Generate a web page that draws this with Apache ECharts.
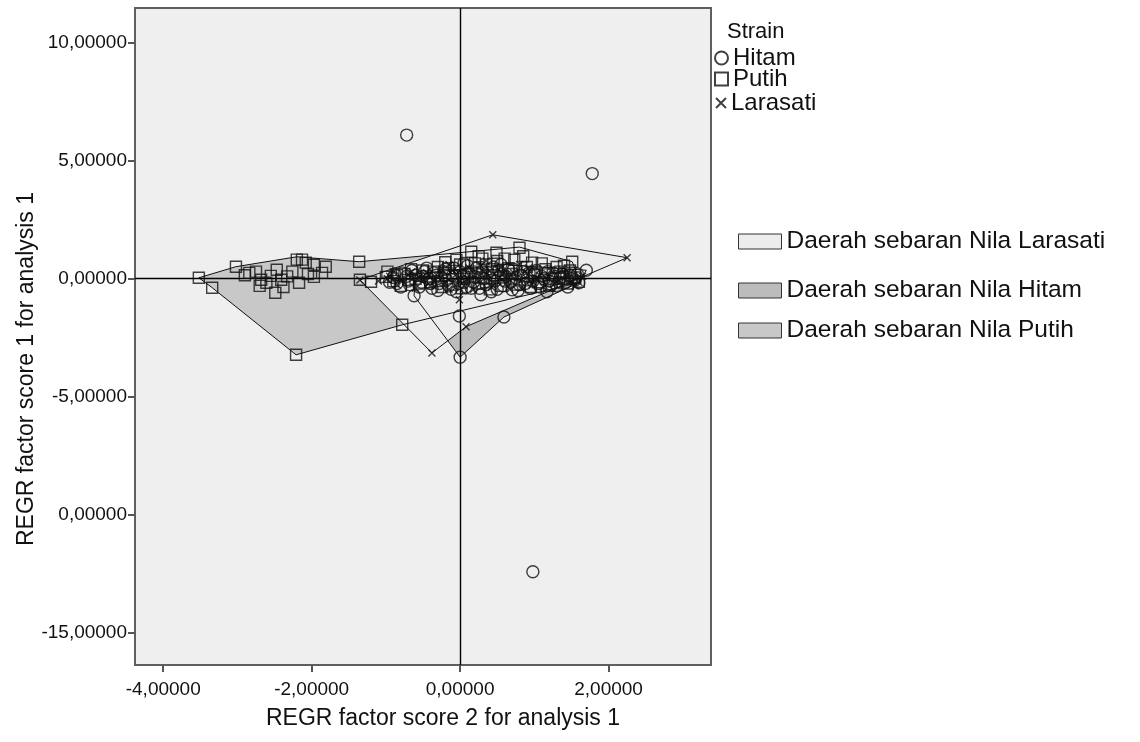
<!DOCTYPE html>
<html><head><meta charset="utf-8">
<script src="https://cdn.jsdelivr.net/npm/echarts@6/dist/echarts.min.js"></script>
<style>html,body{margin:0;padding:0;background:#fff}#c{width:1140px;height:742px}</style>
</head><body><div id="c"></div>
<script>
const xTickValues = [-4, -2, 0, 2];
const xTickLabels = ['-4,00000', '-2,00000', '0,00000', '2,00000'];
const yTickValues = [-15, -10, -5, 0, 5, 10];
const yTickLabels = ['-15,00000', '0,00000', '-5,00000', '0,00000', '5,00000', '10,00000'];
const strainNames = ['Hitam', 'Putih', 'Larasati'];
const areaNames = ['Daerah sebaran Nila Larasati', 'Daerah sebaran Nila Hitam', 'Daerah sebaran Nila Putih'];

const hitam = [
  [-0.72, 6.08], [1.78, 4.45], [0.98, -12.40],
  [0.00, -3.32], [-0.01, -1.58], [0.59, -1.62], [-0.62, -0.72], [1.60, -0.17], [1.70, 0.36],
  [-0.90, 0.05], [-0.85, -0.20], [-0.78, 0.25], [-0.70, -0.10], [-0.65, 0.35], [-0.55, -0.35],
  [-0.50, 0.10], [-0.45, 0.45], [-0.40, -0.20], [-0.35, 0.25], [-0.30, -0.50], [-0.25, 0.05],
  [-0.20, 0.40], [-0.15, -0.30], [-0.10, 0.15], [-0.05, -0.55], [0.00, 0.30], [0.05, -0.15],
  [0.10, 0.55], [0.15, -0.40], [0.20, 0.10], [0.28, -0.68], [0.30, 0.35], [0.35, -0.25],
  [0.40, 0.05], [0.45, 0.50], [0.50, -0.45], [0.55, 0.20], [0.60, -0.10], [0.65, 0.40],
  [0.70, -0.47], [0.75, 0.05], [0.80, -0.25], [0.85, 0.30], [0.90, -0.05], [0.95, -0.40],
  [1.00, 0.20], [1.05, -0.20], [1.10, 0.10], [1.17, -0.55], [1.20, -0.10], [1.25, 0.25],
  [1.30, -0.30], [1.35, 0.05], [1.42, -0.15], [1.48, 0.15], [1.55, -0.05],
  [-0.95, -0.15], [-0.88, 0.20], [-0.80, -0.35], [-0.72, 0.10], [-0.68, -0.25], [-0.60, 0.15],
  [-0.52, -0.15], [-0.48, 0.30], [-0.42, 0.00], [-0.38, -0.40], [-0.32, 0.15], [-0.28, -0.20],
  [-0.22, 0.30], [-0.18, -0.05], [-0.12, -0.45], [-0.08, 0.45], [-0.02, -0.20], [0.03, 0.10],
  [0.08, -0.35], [0.12, 0.25], [0.18, -0.15], [0.22, 0.45], [0.26, -0.40], [0.32, 0.00],
  [0.38, 0.25], [0.42, -0.55], [0.47, -0.10], [0.52, 0.35], [0.58, -0.30], [0.62, 0.10],
  [0.68, -0.15], [0.72, 0.40], [0.78, -0.50], [0.82, 0.15], [0.88, -0.20], [0.93, 0.25],
  [0.98, -0.10], [1.03, 0.35], [1.08, -0.35], [1.13, 0.00], [1.18, 0.30], [1.23, -0.25],
  [1.28, 0.10], [1.33, -0.15], [1.38, 0.20], [1.45, -0.35], [1.50, 0.00], [1.58, 0.20],
  [0.05, 0.65], [0.55, 0.60]
];
const putih = [
  [-3.52, 0.04], [-3.34, -0.38], [-3.02, 0.51], [-2.84, 0.25], [-2.75, 0.30], [-2.68, -0.04],
  [-2.61, -0.17], [-2.49, -0.59], [-2.47, 0.38], [-2.41, -0.04], [-2.26, 0.30], [-2.17, -0.17],
  [-2.20, 0.81], [-2.13, 0.81], [-2.08, 0.68], [-1.97, 0.59], [-1.81, 0.51], [-1.97, 0.08],
  [-1.86, 0.25], [-2.55, 0.12], [-2.33, 0.10], [-2.05, 0.20], [-2.90, 0.15], [-2.70, -0.30],
  [-2.38, -0.35], [-1.36, 0.72], [-1.35, -0.04], [-1.20, -0.13], [-1.00, 0.08],
  [-2.21, -3.22], [-0.78, -1.95],
  [-0.90, -0.10], [-0.75, 0.20], [-0.60, 0.00], [-0.50, 0.35], [-0.40, -0.15], [-0.30, 0.50],
  [-0.20, 0.15], [-0.10, -0.25], [0.00, 0.60], [0.05, 0.00], [0.15, 1.14], [0.15, 0.30],
  [0.25, -0.20], [0.35, 0.60], [0.45, 0.15], [0.49, 1.10], [0.55, -0.30], [0.65, 0.45],
  [0.73, 0.80], [0.80, 1.31], [0.85, 0.10], [0.97, 0.68], [1.05, -0.15], [1.15, 0.40],
  [1.25, 0.00], [1.35, 0.30], [1.45, -0.20], [1.51, 0.72], [1.60, -0.13], [1.40, 0.55],
  [0.60, 0.85], [0.30, 0.85], [-0.05, 0.80],
  [-0.98, 0.30], [-0.85, 0.15], [-0.80, -0.30], [-0.66, 0.40], [-0.55, -0.20], [-0.45, 0.10],
  [-0.36, 0.30], [-0.25, -0.35], [-0.16, 0.45], [-0.06, 0.10], [0.02, -0.40], [0.10, 0.20],
  [0.20, 0.65], [0.28, 0.05], [0.40, -0.45], [0.43, 0.40], [0.50, 0.75], [0.58, 0.05],
  [0.70, 0.20], [0.76, -0.25], [0.90, 0.50], [0.95, -0.35], [1.00, 0.15], [1.10, 0.65],
  [1.20, -0.30], [1.30, 0.50], [1.38, 0.00], [1.48, 0.35], [1.55, 0.05], [0.25, 0.95],
  [-0.20, 0.70], [0.85, 0.95], [-0.70, -0.05], [-0.30, -0.10], [0.35, -0.15]
];
const larasati = [
  [0.44, 1.86], [2.25, 0.89], [-0.38, -3.14], [0.08, -2.03], [-0.01, -0.89], [-1.35, -0.05],
  [-1.10, -0.10], [-0.95, 0.10],
  [-0.85, -0.25], [-0.70, 0.15], [-0.60, -0.40], [-0.45, 0.25], [-0.35, -0.10], [-0.25, 0.40],
  [-0.15, -0.45], [-0.05, 0.20], [0.05, -0.30], [0.12, 0.45], [0.22, -0.05], [0.32, 0.30],
  [0.42, -0.35], [0.52, 0.40], [0.62, -0.20], [0.72, 0.25], [0.82, -0.40], [0.92, 0.45],
  [1.02, 0.00], [1.12, -0.35], [1.22, 0.35], [1.32, -0.05], [1.45, 0.25], [1.55, -0.30],
  [1.65, 0.10], [0.10, 0.00], [0.60, 0.05], [-0.50, -0.05],
  [-0.98, 0.00], [-0.90, 0.30], [-0.78, -0.10], [-0.65, 0.30], [-0.55, 0.05], [-0.40, -0.30],
  [-0.30, 0.10], [-0.20, -0.20], [-0.10, 0.35], [0.00, -0.10], [0.15, 0.20], [0.18, -0.45],
  [0.28, 0.55], [0.38, 0.10], [0.47, -0.20], [0.57, 0.20], [0.67, -0.45], [0.77, 0.05],
  [0.87, 0.30], [0.97, -0.25], [1.07, 0.15], [1.17, 0.00], [1.27, -0.20], [1.37, 0.40],
  [1.50, -0.10], [1.60, -0.15], [0.35, 0.75], [-0.15, 0.60], [0.80, 0.60]
];
const hullPutih = [[-3.52, 0.04], [-3.34, -0.38], [-2.21, -3.22], [-0.78, -1.95], [1.62, -0.15],
  [1.51, 0.72], [0.80, 1.34], [0.12, 1.14], [-1.36, 0.72], [-2.20, 0.93], [-3.02, 0.51]];
const hullHitam = [[-0.62, -0.72], [0.00, -3.32], [0.59, -1.62], [1.60, -0.17], [1.70, 0.36],
  [0.60, 0.60], [-0.60, 0.20]];
const hullLarasati = [[-1.35, -0.05], [-0.38, -3.14], [0.08, -2.03], [2.25, 0.89], [0.44, 1.86]];

const FONT = '"Liberation Sans", Arial, sans-serif';
const chart = echarts.init(document.getElementById('c'), null, {renderer: 'canvas'});

function fillSeries(name, pts, color, z) {
  return {
    type: 'custom', name: name, z: z, silent: true, coordinateSystem: 'cartesian2d',
    itemStyle: {color: color},
    data: [[0, 0]],
    renderItem: function (params, api) {
      return {type: 'polygon', shape: {points: pts.map(p => api.coord(p))},
        style: {fill: color, stroke: 'none'}};
    }
  };
}
function markerStyle(w) {
  return {color: 'rgba(0,0,0,0)', borderColor: '#111', borderWidth: w};
}
function legendItem(name, left, top, w, h, fs, icon) {
  const l = {data: [name], left: left, top: top, orient: 'vertical', padding: 0, itemGap: 0,
    itemWidth: w, itemHeight: h, selectedMode: false,
    textStyle: {fontSize: fs, color: '#111', fontFamily: FONT}};
  if (icon) { l.icon = icon; l.itemStyle = {borderColor: '#333', borderWidth: 1}; }
  return l;
}

chart.setOption({
  animation: false,
  backgroundColor: '#ffffff',
  grid: {left: 135, right: 429, top: 8, bottom: 77, show: true, backgroundColor: '#efefef',
    borderColor: '#5f5f5f', borderWidth: 2},
  xAxis: {
    type: 'value', min: -4.38, max: 3.38, splitLine: {show: false},
    axisLine: {show: true, onZero: false, lineStyle: {color: '#5f5f5f', width: 2}},
    axisTick: {show: true, length: 7, customValues: xTickValues, lineStyle: {color: '#555', width: 2}},
    axisLabel: {customValues: xTickValues, margin: 15, fontSize: 19, color: '#111', fontFamily: FONT,
      formatter: v => xTickLabels[xTickValues.indexOf(v)]}
  },
  yAxis: {
    type: 'value', min: -16.35, max: 11.46, splitLine: {show: false},
    axisLine: {show: true, onZero: false, lineStyle: {color: '#5f5f5f', width: 2}},
    axisTick: {show: true, length: 7, customValues: yTickValues, lineStyle: {color: '#555', width: 2}},
    axisLabel: {customValues: yTickValues, margin: 8, fontSize: 19, color: '#111', fontFamily: FONT,
      formatter: v => yTickLabels[yTickValues.indexOf(v)]}
  },
  legend: [
    legendItem(strainNames[0], 714, 46, 13, 13, 24),
    legendItem(strainNames[1], 714, 67, 13, 13, 24),
    legendItem(strainNames[2], 715, 91, 10, 10, 24),
    legendItem(areaNames[0], 738, 229, 43, 15, 24.5, 'rect'),
    legendItem(areaNames[1], 738, 278, 43, 15, 24.5, 'rect'),
    legendItem(areaNames[2], 738, 318, 43, 15, 24.5, 'rect')
  ],
  graphic: [
    {type: 'text', x: 727, y: 32, style: {text: 'Strain', font: '22px ' + FONT, fill: '#111',
      align: 'left', verticalAlign: 'middle'}},
    {type: 'text', x: 443, y: 719, style: {text: 'REGR factor score 2 for analysis 1', font: '23px ' + FONT,
      fill: '#111', align: 'center', verticalAlign: 'middle'}},
    {type: 'text', x: 27, y: 369, rotation: Math.PI / 2, style: {text: 'REGR factor score 1 for analysis 1',
      font: '23px ' + FONT, fill: '#111', align: 'center', verticalAlign: 'middle'}}
  ],
  series: [
    fillSeries(areaNames[2], hullPutih, '#c8c8c8', 1),
    fillSeries(areaNames[1], hullHitam, '#bcbcbc', 2),
    fillSeries(areaNames[0], hullLarasati, '#ececec', 3),
    {
      type: 'custom', name: 'outline', z: 4, silent: true, coordinateSystem: 'cartesian2d',
      data: [[0, 0]],
      renderItem: function (params, api) {
        return {type: 'group', children: [hullPutih, hullHitam, hullLarasati].map(h => ({
          type: 'polygon', shape: {points: h.map(p => api.coord(p))},
          style: {fill: 'none', stroke: '#111', lineWidth: 1}}))};
      },
      markLine: {silent: true, symbol: ['none', 'none'], label: {show: false},
        lineStyle: {color: '#000', width: 1.4, type: 'solid'},
        data: [{xAxis: 0}, {yAxis: 0}]}
    },
    {type: 'scatter', name: strainNames[0], data: hitam, symbol: 'circle', symbolSize: 12, z: 5,
      itemStyle: markerStyle(1.4)},
    {type: 'scatter', name: strainNames[1], data: putih, symbol: 'rect', symbolSize: 11, z: 6,
      itemStyle: markerStyle(1.4)},
    {type: 'scatter', name: strainNames[2], data: larasati, symbol: 'path://M0,0L10,10M10,0L0,10',
      symbolSize: 7, z: 7, itemStyle: markerStyle(1.4)}
  ]
});
</script></body></html>
